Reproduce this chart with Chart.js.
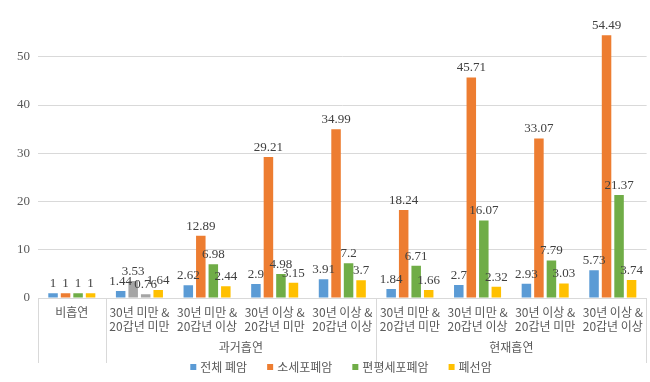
<!DOCTYPE html>
<html><head><meta charset="utf-8">
<script src="https://cdn.jsdelivr.net/npm/chart.js@4"></script>
<style>html,body{margin:0;padding:0;background:#fff}#wrap{width:650px;height:382px}</style>
</head><body><div id="wrap"><canvas id="c"></canvas></div>
<script>
const categories = [
  ['비흡연'],
  ['30년 미만 &','20갑년 미만'],
  ['30년 미만 &','20갑년 이상'],
  ['30년 이상 &','20갑년 미만'],
  ['30년 이상 &','20갑년 이상'],
  ['30년 미만 &','20갑년 미만'],
  ['30년 미만 &','20갑년 이상'],
  ['30년 이상 &','20갑년 미만'],
  ['30년 이상 &','20갑년 이상']
];
const groups = [
  {label:'', from:0, to:0},
  {label:'과거흡연', from:1, to:4},
  {label:'현재흡연', from:5, to:8}
];
const seriesNames = ['전체 폐암','소세포폐암','편평세포폐암','폐선암'];
const allLung   = [1, 1.44, 2.62, 2.9, 3.91, 1.84, 2.7, 2.93, 5.73];
const smallCell = [1, 3.53, 12.89, 29.21, 34.99, 18.24, 45.71, 33.07, 54.49];
const squamous  = [1, 0.76, 6.98, 4.98, 7.2, 6.71, 16.07, 7.79, 21.37];
const adeno     = [1, 1.64, 2.44, 3.15, 3.7, 1.66, 2.32, 3.03, 3.74];
const yTicks = [0,10,20,30,40,50];

const colors = ['#5B9BD5','#ED7D31','#70AD47','#FFC000'];
const gray = '#A5A5A5';
const FONT = "'Liberation Serif', 'Noto Sans CJK KR', serif";
const KFONT = "'Noto Sans CJK KR', sans-serif";

function colorArr(base, grayIdx){
  return categories.map((_,i)=> grayIdx.includes(i) ? gray : base);
}

const dataLabels = {
  id:'dataLabels',
  afterDatasetsDraw(chart){
    const ctx = chart.ctx;
    ctx.save();
    ctx.font = "13px " + FONT;
    ctx.fillStyle = '#404040';
    ctx.textAlign = 'center';
    ctx.textBaseline = 'bottom';
    chart.data.datasets.forEach((ds,di)=>{
      const meta = chart.getDatasetMeta(di);
      meta.data.forEach((bar,i)=>{
        ctx.fillText(String(ds.data[i]), bar.x, bar.y - 3);
      });
    });
    ctx.restore();
  }
};

const groupAxis = {
  id:'groupAxis',
  afterDraw(chart){
    const ctx = chart.ctx;
    const xs = chart.scales.x;
    const ca = chart.chartArea;
    const top = ca.bottom;
    const bottom = top + 65;
    const px = i => xs.getPixelForValue(i);
    const bounds = [ca.left, (px(0)+px(1))/2, (px(4)+px(5))/2, ca.right-1];
    ctx.save();
    ctx.strokeStyle = '#d9d9d9';
    ctx.lineWidth = 1;
    bounds.forEach(b=>{
      const x = Math.round(b)+0.5;
      ctx.beginPath(); ctx.moveTo(x, top); ctx.lineTo(x, bottom); ctx.stroke();
    });
    ctx.font = "12px " + KFONT;
    ctx.fillStyle = '#595959';
    ctx.textAlign = 'center';
    ctx.textBaseline = 'middle';
    groups.forEach(g=>{
      if(!g.label) return;
      const l = (px(g.from-1)+px(g.from))/2;
      const r = g.to === categories.length-1 ? ca.right : (px(g.to)+px(g.to+1))/2;
      ctx.fillText(g.label, (l+r)/2, top + 49);
    });
    // legend
    ctx.font = "12px " + KFONT;
    ctx.textAlign = 'left';
    const box = 6, gapT = 4, gapI = 20;
    const widths = seriesNames.map(n => box + gapT + ctx.measureText(n).width);
    const total = widths.reduce((a,b)=>a+b,0) + gapI*(seriesNames.length-1);
    let x = 341 - total/2;
    const y = chart.height - 15;
    seriesNames.forEach((n,i)=>{
      ctx.fillStyle = colors[i];
      ctx.fillRect(x, y-3, box, box);
      ctx.fillStyle = '#595959';
      ctx.fillText(n, x + box + gapT, y);
      x += widths[i] + gapI;
    });
    ctx.restore();
  }
};

new Chart(document.getElementById('c'), {
  type:'bar',
  data:{
    labels: categories,
    datasets:[
      {label:seriesNames[0], data:allLung, backgroundColor:colors[0]},
      {label:seriesNames[1], data:smallCell, backgroundColor:colorArr(colors[1],[1])},
      {label:seriesNames[2], data:squamous, backgroundColor:colorArr(colors[2],[1])},
      {label:seriesNames[3], data:adeno, backgroundColor:colors[3]}
    ]
  },
  options:{
    responsive:true, maintainAspectRatio:false, animation:false,
    datasets:{bar:{categoryPercentage:0.74, barPercentage:0.76}},
    layout:{padding:{left:0,right:2,top:5,bottom:22}},
    plugins:{
      tooltip:{enabled:false},
      legend:{display:false}
    },
    scales:{
      x:{
        grid:{display:false, drawTicks:false},
        border:{display:true, color:'#d9d9d9'},
        ticks:{font:{size:12, family:KFONT}, color:'#595959', maxRotation:0, autoSkip:false, padding:7},
        afterFit(s){ s.height = 62; }
      },
      y:{
        min:0, max:58.5,
        afterBuildTicks(s){ s.ticks = yTicks.map(v=>({value:v})); },
        grid:{color:'#d9d9d9', drawTicks:false},
        border:{display:false},
        ticks:{font:{size:13, family:FONT}, color:'#595959', padding:8},
        afterFit(s){ s.width = 38; }
      }
    }
  },
  plugins:[dataLabels, groupAxis]
});
</script>
</body></html>
